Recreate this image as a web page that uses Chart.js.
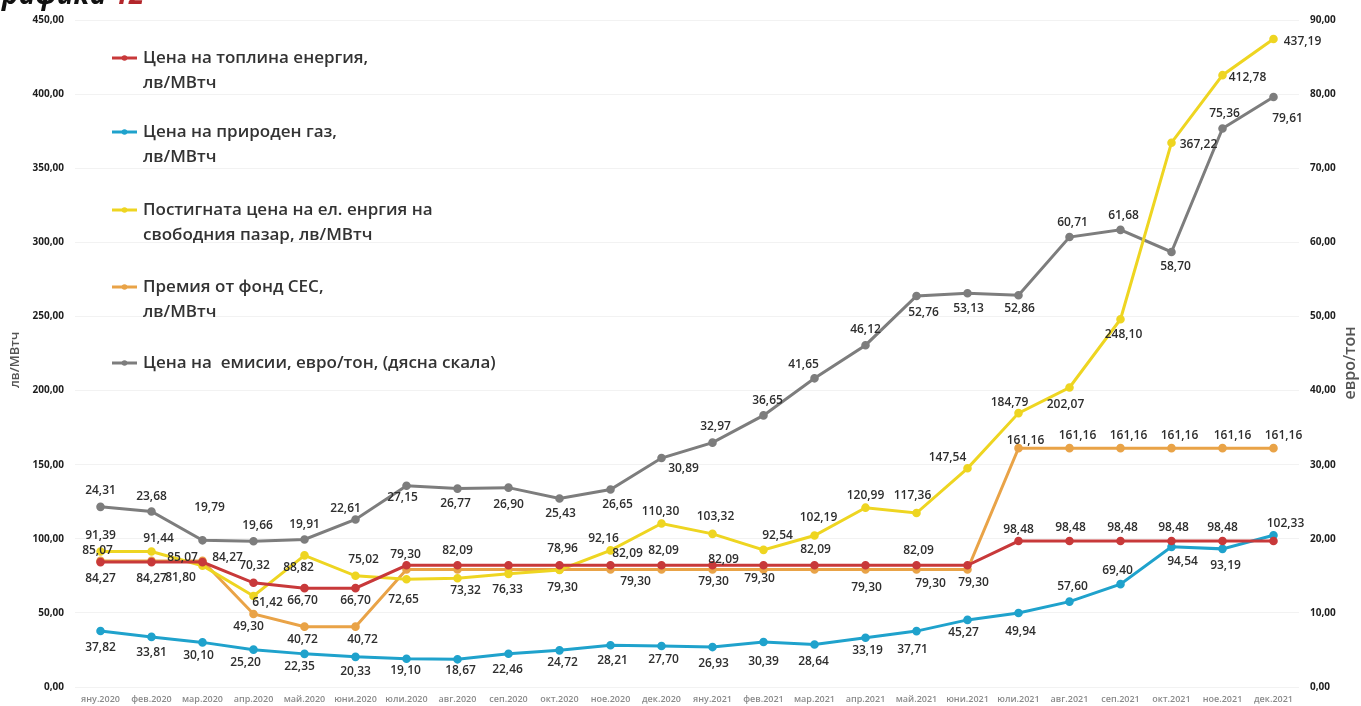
<!DOCTYPE html>
<html lang="bg">
<head>
<meta charset="utf-8">
<title>Графика 12</title>
<script src="https://cdn.jsdelivr.net/npm/chart.js@4.4.1/dist/chart.umd.min.js"></script>
<style>
  html, body { margin: 0; padding: 0; background: #fff; }
  #wrap { position: relative; width: 1361px; height: 706px; }
</style>
</head>
<body>
<div id="wrap"><canvas id="chart"></canvas></div>
<script>
const FONT = "'Open Sans', 'Noto Sans', sans-serif";

const months = [
  "яну.2020", "фев.2020", "мар.2020", "апр.2020", "май.2020", "юни.2020",
  "юли.2020", "авг.2020", "сеп.2020", "окт.2020", "ное.2020", "дек.2020",
  "яну.2021", "фев.2021", "мар.2021", "апр.2021", "май.2021", "юни.2021",
  "юли.2021", "авг.2021", "сеп.2021", "окт.2021", "ное.2021", "дек.2021"
];

// лв/МВтч, лява скала
const heatPrice = [84.27, 84.27, 84.27, 70.32, 66.70, 66.70, 82.09, 82.09, 82.09, 82.09, 82.09, 82.09,
  82.09, 82.09, 82.09, 82.09, 82.09, 82.09, 98.48, 98.48, 98.48, 98.48, 98.48, 98.48];
const gasPrice = [37.82, 33.81, 30.10, 25.20, 22.35, 20.33, 19.10, 18.67, 22.46, 24.72, 28.21, 27.70,
  26.93, 30.39, 28.64, 33.19, 37.71, 45.27, 49.94, 57.60, 69.40, 94.54, 93.19, 102.33];
const powerPrice = [91.39, 91.44, 81.80, 61.42, 88.82, 75.02, 72.65, 73.32, 76.33, 78.96, 92.16, 110.30,
  103.32, 92.54, 102.19, 120.99, 117.36, 147.54, 184.79, 202.07, 248.10, 367.22, 412.78, 437.19];
const premium = [85.07, 85.07, 85.07, 49.30, 40.72, 40.72, 79.30, 79.30, 79.30, 79.30, 79.30, 79.30,
  79.30, 79.30, 79.30, 79.30, 79.30, 79.30, 161.16, 161.16, 161.16, 161.16, 161.16, 161.16];
// евро/тон, дясна скала
const co2Price = [24.31, 23.68, 19.79, 19.66, 19.91, 22.61, 27.15, 26.77, 26.90, 25.43, 26.65, 30.89,
  32.97, 36.65, 41.65, 46.12, 52.76, 53.13, 52.86, 60.71, 61.68, 58.70, 75.36, 79.61];

const seriesNames = [
  ["Цена на топлина енергия,", "лв/МВтч"],
  ["Цена на природен газ,", "лв/МВтч"],
  ["Постигната цена на ел. енргия на", "свободния пазар, лв/МВтч"],
  ["Премия от фонд СЕС,", "лв/МВтч"],
  ["Цена на  емисии, евро/тон, (дясна скала)"]
];
const seriesColors = ["#c8393a", "#1fa2cc", "#eed521", "#e9a347", "#7d7d7d"];

// отместване на надписите спрямо точката [dx, dy]; null = без надпис
const heatLbl = [[0,16],[0,16],[25,-5],[1,-17],[-2,12],[0,12],null,[0,-15],null,null,[17,-12],[2,-15],
  [11,-6],null,[1,-16],null,[2,-15],null,[0,-11],[1,-13],[2,-13],[2,-13],[0,-13],null];
const gasLbl = [[0,17],[0,16],[-4,13],[-8,13],[-5,13],[0,15],[-1,12],[3,11],[-1,16],[3,12],[2,15],[2,14],
  [1,16],[0,20],[-1,17],[2,13],[-4,18],[-4,13],[2,19],[3,-15],[-3,-14],[11,15],[3,17],[12,-12]];
const powerLbl = [[0,-16],[7,-13],[-22,12],[14,7],[-6,12],[8,-16],[-3,20],[8,12],[-1,16],[3,-21],[-7,-12],[-1,-12],
  [3,-17],[14,-14],[4,-18],[0,-12],[-4,-17],[-20,-11],[-9,-11],[-4,17],[3,15],[27,2],[25,2],[29,3]];
const premiumLbl = [[-3,-10],null,[-20,-3],[-5,13],[-2,13],[7,13],[-1,-15],null,null,[3,18],[25,12],null,
  [1,12],[-4,9],null,[1,18],[14,14],[6,13],[7,-8],[8,-13],[8,-13],[8,-13],[10,-13],[10,-13]];
const co2Lbl = [[0,-16],[0,-15],[7,-33],[4,-16],[0,-15],[-10,-11],[-4,12],[-2,15],[0,17],[1,15],[7,15],[22,11],
  [3,-16],[4,-15],[-11,-14],[0,-16],[7,17],[1,15],[1,13],[3,-14],[3,-14],[4,15],[2,-15],[14,22]];

const fmt = v => v.toFixed(2).replace(".", ",");

const makeSet = (data, i, axis, labels) => ({
  label: seriesNames[i].join(" "),
  data: data,
  yAxisID: axis,
  borderColor: seriesColors[i],
  backgroundColor: seriesColors[i],
  borderWidth: 3,
  pointRadius: 2.8,
  pointHoverRadius: 2.8,
  tension: 0,
  valueLabels: labels
});

// надписи със стойностите до всяка точка
const valueLabelPlugin = {
  id: "valueLabels",
  afterDatasetsDraw(chart) {
    const ctx = chart.ctx;
    ctx.save();
    ctx.font = "600 12px " + FONT;
    ctx.fillStyle = "#2e2e2e";
    ctx.textAlign = "center";
    ctx.textBaseline = "middle";
    chart.data.datasets.forEach((ds, di) => {
      const meta = chart.getDatasetMeta(di);
      meta.data.forEach((pt, i) => {
        const off = ds.valueLabels[i];
        if (!off) return;
        ctx.fillText(fmt(ds.data[i]), pt.x + off[0], pt.y + off[1]);
      });
    });
    ctx.restore();
  }
};

// легенда вътре в полето на графиката
const legendPlugin = {
  id: "boxLegend",
  afterDraw(chart) {
    const ctx = chart.ctx;
    const rows = [58, 132, 210, 287, 363];
    ctx.save();
    ctx.font = "600 17px " + FONT;
    ctx.textBaseline = "middle";
    ctx.textAlign = "left";
    seriesNames.forEach((lines, i) => {
      const y = rows[i];
      ctx.strokeStyle = seriesColors[i];
      ctx.lineWidth = 3;
      ctx.beginPath();
      ctx.moveTo(112, y);
      ctx.lineTo(137, y);
      ctx.stroke();
      ctx.fillStyle = seriesColors[i];
      ctx.beginPath();
      ctx.arc(124.5, y, 2.8, 0, Math.PI * 2);
      ctx.fill();
      ctx.fillStyle = "#333";
      lines.forEach((t, k) => ctx.fillText(t, 143, y + k * 25));
    });
    ctx.restore();
  }
};

// заглавия на осите и надписът горе вляво
const titlesPlugin = {
  id: "titles",
  afterDraw(chart) {
    const ctx = chart.ctx;
    ctx.save();
    ctx.fillStyle = "#555";
    ctx.textAlign = "center";
    ctx.textBaseline = "middle";
    [[15, 360, "лв/МВтч", 13], [1350, 363, "евро/тон", 16]].forEach(([x, y, t, size]) => {
      ctx.save();
      ctx.font = "600 " + size + "px " + FONT;
      ctx.translate(x, y);
      ctx.rotate(-Math.PI / 2);
      ctx.fillText(t, 0, 0);
      ctx.restore();
    });
    ctx.font = "italic 700 28px " + FONT;
    ctx.textAlign = "left";
    ctx.textBaseline = "alphabetic";
    ctx.fillStyle = "#111";
    const g = ctx.measureText("Г").width;
    ctx.fillText("Графика ", 2 - g, 4);
    const w = ctx.measureText("Графика ").width;
    ctx.fillStyle = "#b3262b";
    ctx.fillText("12", 2 - g + w, 4);
    ctx.restore();
  }
};

new Chart(document.getElementById("chart"), {
  type: "line",
  data: {
    labels: months,
    datasets: [
      makeSet(heatPrice, 0, "y", heatLbl),
      makeSet(gasPrice, 1, "y", gasLbl),
      makeSet(powerPrice, 2, "y", powerLbl),
      makeSet(premium, 3, "y", premiumLbl),
      makeSet(co2Price, 4, "y1", co2Lbl)
    ]
  },
  options: {
    responsive: true,
    maintainAspectRatio: false,
    animation: false,
    events: [],
    layout: { padding: { top: 20, left: 0, right: 0, bottom: 0 } },
    plugins: {
      legend: { display: false },
      tooltip: { enabled: false }
    },
    scales: {
      x: {
        offset: true,
        grid: { display: false, drawTicks: false },
        border: { display: false },
        ticks: {
          autoSkip: false,
          maxRotation: 0,
          padding: 7,
          color: "#8a8a8a",
          font: { family: FONT, size: 9, weight: "600" }
        },
        afterFit: s => { s.height = 19; }
      },
      y: {
        min: 0,
        max: 450,
        ticks: {
          stepSize: 50,
          padding: 11,
          color: "#1e1e1e",
          font: { family: FONT, size: 10, weight: "700" },
          callback: v => fmt(v)
        },
        grid: { color: "rgba(0,0,0,0.05)", drawTicks: false },
        border: { display: false },
        afterFit: s => { s.width = 75; }
      },
      y1: {
        position: "right",
        min: 0,
        max: 90,
        ticks: {
          stepSize: 10,
          padding: 11,
          color: "#1e1e1e",
          font: { family: FONT, size: 10, weight: "700" },
          callback: v => fmt(v)
        },
        grid: { display: false, drawTicks: false },
        border: { display: false },
        afterFit: s => { s.width = 62; }
      }
    }
  },
  plugins: [valueLabelPlugin, legendPlugin, titlesPlugin]
});
</script>
</body>
</html>
